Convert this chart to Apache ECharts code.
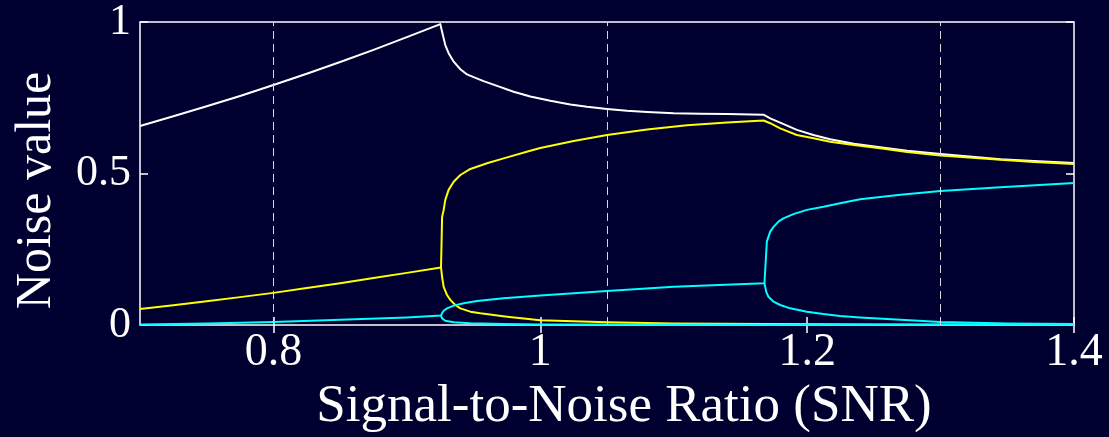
<!DOCTYPE html>
<html>
<head>
<meta charset="utf-8">
<script src="https://cdn.jsdelivr.net/npm/echarts@6/dist/echarts.min.js"></script>
<style>
html,body{margin:0;padding:0;background:#000030;}
#chart{width:1109px;height:437px;}
</style>
</head>
<body>
<div id="chart"></div>
<script>
// ---- data (SNR, noise value) ----
var xTickValues = [0.8, 1, 1.2, 1.4];
var yTickValues = [0, 0.5, 1];
var gridLineValues = [0.8, 1.05, 1.3];

var whiteCurve = [
  [0.700,0.657],[0.725,0.689],[0.750,0.722],[0.775,0.756],[0.800,0.792],[0.825,0.829],[0.850,0.868],
  [0.875,0.908],[0.900,0.950],[0.9251,0.993],
  [0.9264,0.968],[0.9276,0.946],[0.9288,0.924],[0.9313,0.897],[0.9351,0.869],[0.9401,0.844],
  [0.9451,0.827],[0.9500,0.818],[0.9575,0.805],[0.9676,0.789],[0.9800,0.770],[0.9925,0.754],
  [1.0075,0.740],[1.0225,0.728],[1.035,0.720],[1.050,0.713],[1.065,0.707],[1.080,0.703],
  [1.100,0.699],[1.120,0.697],[1.140,0.696],[1.1673,0.694],
  [1.1723,0.682],[1.1798,0.668],[1.1923,0.644],[1.2047,0.627],[1.2172,0.613],[1.235,0.598],
  [1.2547,0.587],[1.275,0.575],[1.300,0.564],[1.345,0.547],[1.370,0.541],[1.400,0.535]
];

var yellowUpper = [
  [0.700,0.053],[0.725,0.065],[0.750,0.078],[0.775,0.092],[0.800,0.106],[0.825,0.122],[0.850,0.138],
  [0.875,0.155],[0.900,0.172],[0.9256,0.190],
  [0.9260,0.270],[0.9264,0.356],[0.9276,0.380],[0.9288,0.413],[0.9313,0.446],[0.9351,0.473],
  [0.9401,0.495],[0.9476,0.515],[0.9601,0.534],[0.9725,0.550],[0.9925,0.575],[1.000,0.584],
  [1.025,0.607],[1.050,0.627],[1.080,0.645],[1.110,0.659],[1.140,0.668],[1.1673,0.675],
  [1.1723,0.666],[1.1798,0.649],[1.1923,0.627],[1.2047,0.616],[1.2172,0.605],[1.235,0.594],
  [1.2547,0.583],[1.275,0.571],[1.300,0.559],[1.345,0.545],[1.370,0.538],[1.400,0.531]
];

var yellowLower = [
  [0.9256,0.190],[0.9264,0.159],[0.9276,0.126],[0.9301,0.099],[0.9326,0.083],[0.9363,0.066],
  [0.9401,0.055],[0.9476,0.044],[0.955,0.0385],[0.9751,0.0275],[1.000,0.016],[1.025,0.012],[1.050,0.009],
  [1.100,0.005],[1.170,0.003],[1.250,0.002],[1.400,0.001]
];

var cyanUpper = [
  [0.700,0.002],[0.750,0.005],[0.800,0.010],[0.850,0.017],[0.900,0.025],[0.9256,0.031],
  [0.9264,0.039],[0.9276,0.047],[0.9301,0.055],[0.9351,0.064],[0.9426,0.072],[0.9526,0.079],
  [0.9725,0.088],[1.000,0.097],[1.050,0.112],[1.100,0.126],[1.168,0.1375],
  [1.1698,0.275],[1.1723,0.308],[1.1748,0.324],[1.1785,0.341],[1.1822,0.352],[1.1897,0.366],
  [1.1998,0.380],[1.2122,0.390],[1.2247,0.402],[1.2397,0.415],[1.270,0.430],[1.300,0.442],
  [1.345,0.455],[1.400,0.469]
];

var cyanLowerA = [
  [0.9256,0.031],[0.9264,0.022],[0.9288,0.014],[0.9351,0.009],[0.9476,0.0055],[0.9725,0.003],
  [1.000,0.0015],[1.200,0.001],[1.400,0.001]
];

var cyanLowerB = [
  [1.168,0.1375],[1.1693,0.110],[1.171,0.093],[1.1748,0.077],[1.1798,0.066],[1.1873,0.055],
  [1.1998,0.044],[1.2122,0.036],[1.2247,0.030],[1.2397,0.025],[1.270,0.017],[1.300,0.010],
  [1.350,0.005],[1.400,0.003]
];

var FONT = "'Liberation Serif','Times New Roman',serif";
var WHITE = '#ffffff', YELLOW = '#ffff00', CYAN = '#00ffff';

function lineSeries(data, color, extra) {
  var s = {
    type: 'line', data: data, showSymbol: false, symbol: 'none',
    lineStyle: { color: color, width: 2, join: 'round' }, silent: true, animation: false, z: 3
  };
  if (extra) for (var k in extra) s[k] = extra[k];
  return s;
}

var chart = echarts.init(document.getElementById('chart'), null, { renderer: 'canvas' });
chart.setOption({
  backgroundColor: '#000030',
  animation: false,
  grid: { left: 140, right: 35, top: 22, bottom: 112, containLabel: false, outerBoundsMode: 'none',
    show: true, borderColor: WHITE, borderWidth: 1.5, backgroundColor: 'transparent' },
  xAxis: [{
    type: 'value', min: 0.7, max: 1.4, position: 'bottom',
    name: 'Signal-to-Noise Ratio (SNR)', nameLocation: 'middle', nameGap: 52,
    nameTextStyle: { color: WHITE, fontFamily: FONT, fontSize: 53, padding: [0, 0, 0, 34] },
    axisLine: { show: false },
    axisTick: { show: true, inside: true, length: 8, customValues: xTickValues, lineStyle: { color: WHITE, width: 1.5 } },
    axisLabel: { show: true, customValues: xTickValues, color: WHITE, fontFamily: FONT, fontSize: 46, margin: 5,
      formatter: function (v) { return String(Math.round(v * 10) / 10); } },
    splitLine: { show: false }
  }, {
    type: 'value', min: 0.7, max: 1.4, position: 'top',
    axisLine: { show: false },
    axisTick: { show: true, inside: true, length: 8, customValues: xTickValues, lineStyle: { color: WHITE, width: 1.5 } },
    axisLabel: { show: false }, splitLine: { show: false }
  }],
  yAxis: [{
    type: 'value', min: 0, max: 1, interval: 0.5, position: 'left',
    name: 'Noise value', nameLocation: 'middle', nameGap: 78,
    nameTextStyle: { color: WHITE, fontFamily: FONT, fontSize: 50, padding: [0, 34, 0, 0] },
    axisLine: { show: false },
    axisTick: { show: true, inside: true, length: 8, lineStyle: { color: WHITE, width: 1.5 } },
    axisLabel: { show: true, color: WHITE, fontFamily: FONT, fontSize: 44, margin: 9,
      formatter: function (v) { return String(v); } },
    splitLine: { show: false }
  }, {
    type: 'value', min: 0, max: 1, interval: 0.5, position: 'right',
    axisLine: { show: false },
    axisTick: { show: true, inside: true, length: 8, lineStyle: { color: WHITE, width: 1.5 } },
    axisLabel: { show: false }, splitLine: { show: false }
  }],
  series: [
    lineSeries(whiteCurve, WHITE, {
      markLine: {
        silent: true, symbol: 'none', animation: false,
        label: { show: false },
        lineStyle: { color: '#d8d8d8', type: [8, 5], width: 1 },
        data: gridLineValues.map(function (v) { return { xAxis: v }; })
      }
    }),
    lineSeries(yellowUpper, YELLOW),
    lineSeries(yellowLower, YELLOW),
    lineSeries(cyanUpper, CYAN),
    lineSeries(cyanLowerA, CYAN),
    lineSeries(cyanLowerB, CYAN)
  ]
});
</script>
</body>
</html>
